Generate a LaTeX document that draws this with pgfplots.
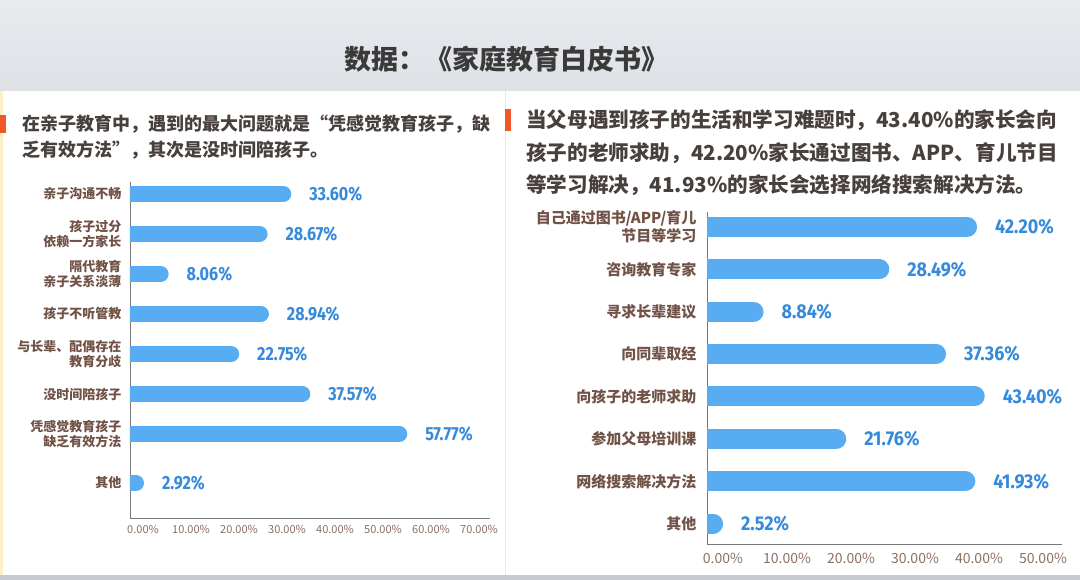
\documentclass[border=0pt]{standalone}
\usepackage{pgfplots}
\pgfplotsset{compat=1.18}
\usepackage{fontspec}
\setmainfont{Noto Sans CJK SC}
\newfontfamily\valfontL[FakeStretch=0.85]{Fira Sans}
\newfontfamily\valfontR[FakeStretch=0.9]{Fira Sans}
\definecolor{barblue}{RGB}{88,172,242}
\definecolor{valblue}{RGB}{54,138,220}
\definecolor{catbrown}{RGB}{112,82,70}
\definecolor{tickbrown}{RGB}{140,112,98}
\definecolor{headgray}{RGB}{72,64,60}
\definecolor{titlegray}{RGB}{58,58,58}
\definecolor{markorange}{RGB}{240,88,40}
\definecolor{bandtop}{RGB}{232,234,238}
\definecolor{bandbot}{RGB}{222,225,230}
\definecolor{axisgray}{RGB}{120,120,120}
\definecolor{edgeyellow}{RGB}{252,240,200}
\tikzset{
  barL/.style={draw=barblue, line width=16pt, line cap=round, shorten >=8pt},
  barR/.style={draw=barblue, line width=20pt, line cap=round, shorten >=10pt},
  valL/.style={anchor=west, xshift=10pt, text=valblue, font=\valfontL\bfseries\fontsize{19}{19}\selectfont, inner sep=0pt},
  valR/.style={anchor=west, xshift=8pt, text=valblue, font=\valfontR\bfseries\fontsize{20}{20}\selectfont, inner sep=0pt},
}
\begin{document}
\begin{tikzpicture}[x=1pt,y=1pt]
\path[use as bounding box] (0,0) rectangle (1080,-580);
\shade[top color=bandtop, bottom color=bandbot] (0,0) rectangle (1080,-91);
\fill[bandbot!90!black] (0,-575) rectangle (1080,-580);
\fill[white] (0,-91) rectangle (1080,-575);
\fill[edgeyellow] (0,-91) rectangle (3,-575);
\draw[black!8] (505,-91) -- (505,-575);
% title
\node[anchor=base, font=\fontsize{27}{27}\selectfont\bfseries, text=titlegray, inner sep=0pt] at (506,-70) {数据：《家庭教育白皮书》};
% left header
\fill[markorange] (0,-115) rectangle (6,-133);
\node[anchor=base west, inner sep=0pt, font=\fontsize{18}{18}\selectfont\bfseries, text=headgray] at (22,-131) {在亲子教育中，遇到的最大问题就是“凭感觉教育孩子，缺};
\node[anchor=base west, inner sep=0pt, font=\fontsize{18}{18}\selectfont\bfseries, text=headgray] at (22,-157) {乏有效方法”，其次是没时间陪孩子。};
% right header
\fill[markorange] (505,-109) rectangle (511,-131);
\node[anchor=base west, inner sep=0pt, font=\fontsize{20.6}{20.6}\selectfont\bfseries, text=headgray] at (526,-128) {当父母遇到孩子的生活和学习难题时，43.40\%的家长会向};
\node[anchor=base west, inner sep=0pt, font=\fontsize{20.6}{20.6}\selectfont\bfseries, text=headgray] at (526,-161) {孩子的老师求助，42.20\%家长通过图书、APP、育儿节目};
\node[anchor=base west, inner sep=0pt, font=\fontsize{20.6}{20.6}\selectfont\bfseries, text=headgray] at (526,-193) {等学习解决，41.93\%的家长会选择网络搜索解决方法。};

% left chart
\begin{axis}[
  at={(130pt,-518pt)}, anchor=south west,
  scale only axis, width=360pt, height=336pt,
  xmin=0, xmax=75, ymin=0, ymax=8.4,
  axis x line=bottom, axis y line=left,
  axis line style={-, draw=axisgray, line width=0.8pt},
  xtick={0,10,20,30,40,50,60,70},
  xticklabels={0.00\%,10.00\%,20.00\%,30.00\%,40.00\%,50.00\%,60.00\%,70.00\%},
  ytick={0.875,2.1,3.1,4.1,5.1,6.1,7.1,8.1},
  yticklabels={其他,{凭感觉教育孩子\\缺乏有效方法},没时间陪孩子,{与长辈、配偶存在\\教育分歧},孩子不听管教,{隔代教育\\亲子关系淡薄},{孩子过分\\依赖一方家长},亲子沟通不畅},
  major tick length=0pt,
  xticklabel style={font=\fontsize{11}{11}\selectfont, text=tickbrown, xshift=13pt, yshift=-4pt},
  yticklabel style={font=\fontsize{13}{15}\selectfont\bfseries, text=catbrown, align=right, xshift=-5pt},
  clip mode=individual,
]
\addplot[barL] coordinates {(0,8.1) (33.60,8.1)} node[pos=1, valL] {33.60\%};
\addplot[barL] coordinates {(0,7.1) (28.67,7.1)} node[pos=1, valL] {28.67\%};
\addplot[barL] coordinates {(0,6.1) (8.06,6.1)} node[pos=1, valL] {8.06\%};
\addplot[barL] coordinates {(0,5.1) (28.94,5.1)} node[pos=1, valL] {28.94\%};
\addplot[barL] coordinates {(0,4.1) (22.75,4.1)} node[pos=1, valL] {22.75\%};
\addplot[barL] coordinates {(0,3.1) (37.57,3.1)} node[pos=1, valL] {37.57\%};
\addplot[barL] coordinates {(0,2.1) (57.77,2.1)} node[pos=1, valL] {57.77\%};
\addplot[barL] coordinates {(0,0.875) (2.92,0.875)} node[pos=1, valL] {2.92\%};
\end{axis}

% right chart
\begin{axis}[
  at={(707pt,-544pt)}, anchor=south west,
  scale only axis, width=355pt, height=332pt,
  xmin=0, xmax=55.47, ymin=0, ymax=7.83,
  axis x line=bottom, axis y line=left,
  axis line style={-, draw=axisgray, line width=0.8pt},
  xtick={0,10,20,30,40,50},
  xticklabels={0.00\%,10.00\%,20.00\%,30.00\%,40.00\%,50.00\%},
  ytick={0.48,1.48,2.48,3.48,4.48,5.48,6.48,7.48},
  yticklabels={其他,网络搜索解决方法,参加父母培训课,向孩子的老师求助,向同辈取经,寻求长辈建议,咨询教育专家,{自己通过图书/APP/育儿\\节目等学习}},
  major tick length=0pt,
  xticklabel style={font=\fontsize{14}{14}\selectfont, text=tickbrown, xshift=16pt, yshift=-6pt},
  yticklabel style={font=\fontsize{15}{18}\selectfont\bfseries, text=catbrown, align=right, xshift=-7pt},
  clip mode=individual,
]
\addplot[barR] coordinates {(0,7.48) (42.20,7.48)} node[pos=1, valR] {42.20\%};
\addplot[barR] coordinates {(0,6.48) (28.49,6.48)} node[pos=1, valR] {28.49\%};
\addplot[barR] coordinates {(0,5.48) (8.84,5.48)} node[pos=1, valR] {8.84\%};
\addplot[barR] coordinates {(0,4.48) (37.36,4.48)} node[pos=1, valR] {37.36\%};
\addplot[barR] coordinates {(0,3.48) (43.40,3.48)} node[pos=1, valR] {43.40\%};
\addplot[barR] coordinates {(0,2.48) (21.76,2.48)} node[pos=1, valR] {21.76\%};
\addplot[barR] coordinates {(0,1.48) (41.93,1.48)} node[pos=1, valR] {41.93\%};
\addplot[barR] coordinates {(0,0.48) (2.52,0.48)} node[pos=1, valR] {2.52\%};
\end{axis}
\end{tikzpicture}
\end{document}
